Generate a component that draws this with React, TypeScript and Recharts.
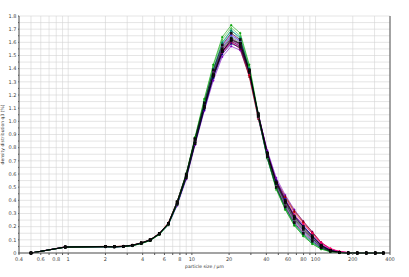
import React from 'react';
import { LineChart, Line, XAxis, YAxis, CartesianGrid } from 'recharts';

// particle size classes (µm)
const sizes = [0.5, 0.95, 2.0, 2.36, 2.79, 3.3, 3.9, 4.6, 5.45, 6.45, 7.6, 9.0, 10.6, 12.6, 14.9, 17.6, 20.8, 24.6, 29.1, 34.4, 40.7, 48.1, 56.9, 67.3, 79.6, 94.1, 111, 132, 156, 184, 218, 258, 305, 355];

const xTicks = [0.4, 0.5, 0.6, 0.7, 0.8, 0.9, 1, 2, 3, 4, 5, 6, 7, 8, 9, 10, 20, 30, 40, 50, 60, 70, 80, 90, 100, 200, 300, 400];
const xLabels = [0.4, 0.6, 0.8, 1, 2, 4, 6, 8, 10, 20, 40, 60, 80, 100, 200, 400];
const yTicks = [0, 0.05, 0.1, 0.15, 0.2, 0.25, 0.3, 0.35, 0.4, 0.45, 0.5, 0.55, 0.6, 0.65, 0.7, 0.75, 0.8, 0.85, 0.9, 0.95, 1, 1.05, 1.1, 1.15, 1.2, 1.25, 1.3, 1.35, 1.4, 1.45, 1.5, 1.55, 1.6, 1.65, 1.7, 1.75, 1.8];

// density distribution q3 (%) per measurement
const runA = [0, .044, .047, .046, .049, .055, .071, .094, .14, .215, .38, .6, .88, 1.17, 1.43, 1.64, 1.73, 1.67, 1.43, 1.06, .73, .49, .33, .21, .13, .07, .03, .01, .002, 0, 0, 0, 0, 0];
const runB = [0, .046, .049, .048, .051, .059, .077, .1, .148, .225, .39, .6, .87, 1.14, 1.39, 1.58, 1.67, 1.62, 1.39, 1.04, .73, .5, .35, .23, .15, .09, .04, .012, .003, 0, 0, 0, 0, 0];
const runC = [0, .045, .048, .047, .05, .057, .074, .097, .144, .218, .37, .58, .84, 1.1, 1.34, 1.53, 1.62, 1.58, 1.37, 1.05, .76, .55, .41, .29, .21, .13, .06, .02, .006, 0, 0, 0, 0, 0];
const runD = [0, .047, .05, .049, .052, .06, .078, .101, .15, .228, .39, .59, .85, 1.11, 1.35, 1.52, 1.6, 1.56, 1.35, 1.03, .75, .54, .42, .31, .23, .15, .07, .025, .008, .002, 0, 0, 0, 0];
const runE = [0, .046, .049, .048, .05, .058, .075, .098, .146, .222, .38, .59, .86, 1.13, 1.38, 1.57, 1.66, 1.61, 1.39, 1.03, .72, .5, .36, .24, .16, .1, .045, .014, .004, 0, 0, 0, 0, 0];
const runF = [0, .045, .048, .047, .049, .056, .073, .096, .142, .215, .37, .58, .85, 1.13, 1.39, 1.59, 1.69, 1.64, 1.41, 1.04, .72, .49, .34, .22, .14, .08, .035, .01, .003, 0, 0, 0, 0, 0];
const runG = [0, .044, .047, .046, .049, .056, .072, .095, .14, .212, .36, .56, .82, 1.08, 1.31, 1.49, 1.57, 1.54, 1.35, 1.05, .78, .57, .44, .33, .24, .16, .08, .03, .01, .002, 0, 0, 0, 0];
const runH = [0, .046, .048, .047, .05, .058, .076, .099, .147, .223, .38, .59, .86, 1.12, 1.36, 1.55, 1.63, 1.59, 1.38, 1.04, .75, .53, .39, .27, .19, .12, .055, .018, .005, 0, 0, 0, 0, 0];
const runI = [0, .045, .047, .046, .049, .057, .074, .097, .144, .219, .37, .57, .83, 1.09, 1.33, 1.51, 1.59, 1.56, 1.37, 1.06, .77, .55, .4, .28, .2, .13, .06, .02, .006, 0, 0, 0, 0, 0];
const runJ = [0, .046, .049, .048, .051, .059, .076, .1, .147, .224, .39, .6, .87, 1.15, 1.4, 1.6, 1.69, 1.63, 1.4, 1.04, .72, .49, .34, .22, .14, .08, .035, .011, .003, 0, 0, 0, 0, 0];
const runK = [0, .045, .048, .047, .05, .058, .075, .098, .145, .221, .38, .58, .84, 1.11, 1.35, 1.53, 1.61, 1.57, 1.37, 1.05, .76, .54, .4, .28, .2, .13, .06, .02, .005, 0, 0, 0, 0, 0];
const runL = [0, .047, .05, .049, .052, .06, .077, .1, .149, .226, .39, .6, .86, 1.12, 1.35, 1.53, 1.6, 1.55, 1.34, 1.02, .75, .55, .43, .32, .24, .16, .08, .03, .01, .003, 0, 0, 0, 0];
const runM = [0, .044, .047, .046, .049, .055, .071, .094, .14, .214, .37, .59, .87, 1.16, 1.42, 1.62, 1.71, 1.65, 1.42, 1.05, .72, .48, .33, .21, .13, .07, .03, .009, .002, 0, 0, 0, 0, 0];
const runN = [0, .046, .049, .048, .05, .058, .075, .098, .146, .222, .38, .58, .84, 1.1, 1.34, 1.52, 1.6, 1.57, 1.38, 1.06, .77, .55, .4, .28, .2, .13, .07, .03, .01, .004, .002, 0, 0, 0];
const runO = [0, .045, .048, .047, .05, .057, .074, .097, .144, .219, .37, .57, .83, 1.1, 1.34, 1.53, 1.62, 1.59, 1.39, 1.06, .76, .53, .38, .26, .18, .11, .05, .016, .004, 0, 0, 0, 0, 0];
const runP = [0, .045, .048, .047, .05, .057, .074, .097, .144, .218, .37, .58, .85, 1.12, 1.37, 1.56, 1.65, 1.61, 1.39, 1.04, .74, .52, .37, .25, .17, .1, .045, .013, .003, 0, 0, 0, 0, 0];
const runQ = [0, .046, .049, .048, .051, .059, .077, .1, .148, .225, .39, .6, .86, 1.13, 1.37, 1.56, 1.64, 1.6, 1.38, 1.03, .73, .51, .37, .25, .17, .11, .05, .015, .004, 0, 0, 0, 0, 0];
const runR = [0, .045, .048, .047, .05, .058, .075, .098, .145, .22, .38, .58, .85, 1.12, 1.36, 1.54, 1.62, 1.58, 1.37, 1.05, .76, .54, .4, .29, .22, .15, .08, .035, .012, .004, .001, 0, 0, 0];

const series = [
  { key: 'g', values: runG, color: '#8000c0', shape: 'circle' },
  { key: 'd', values: runD, color: '#e00000', shape: 'circle' },
  { key: 'l', values: runL, color: '#800000', shape: 'triangle' },
  { key: 'n', values: runN, color: '#ff00ff', shape: 'diamond' },
  { key: 'c', values: runC, color: '#0000ff', shape: 'circle' },
  { key: 'i', values: runI, color: '#000080', shape: 'triangle' },
  { key: 'r', values: runR, color: '#ff0060', shape: 'circle' },
  { key: 'e', values: runE, color: '#c000c0', shape: 'triangle' },
  { key: 'p', values: runP, color: '#2060ff', shape: 'diamond' },
  { key: 'q', values: runQ, color: '#606060', shape: 'circle' },
  { key: 'f', values: runF, color: '#00b0c0', shape: 'diamond' },
  { key: 'j', values: runJ, color: '#008060', shape: 'circle' },
  { key: 'm', values: runM, color: '#40c040', shape: 'triangle' },
  { key: 'a', values: runA, color: '#00a000', shape: 'circle' },
  { key: 'b', values: runB, color: '#000000', shape: 'square' },
  { key: 'h', values: runH, color: '#000000', shape: 'square' },
  { key: 'k', values: runK, color: '#000000', shape: 'square' },
  { key: 'o', values: runO, color: '#000000', shape: 'square' },
];

const data = sizes.map((size, i) => {
  const row: Record<string, number> = { size };
  series.forEach((s) => { row[s.key] = s.values[i]; });
  return row;
});

const makeDot = (shape: string, color: string, name: string) => (props: any) => {
  const { cx, cy, index } = props;
  const k = `${name}-${index}`;
  if (cx == null || cy == null) return <g key={k} />;
  if (shape === 'square') {
    const r = 1.1;
    return <rect key={k} x={cx - r} y={cy - r} width={r * 2} height={r * 2} fill="#111" stroke="#000" strokeWidth={0.4} />;
  }
  const r = 0.9;
  if (shape === 'triangle') {
    return <path key={k} d={`M${cx},${cy - r - 0.2}L${cx + r},${cy + r}L${cx - r},${cy + r}Z`} fill={color} stroke={color} strokeWidth={0.4} />;
  }
  if (shape === 'diamond') {
    return <path key={k} d={`M${cx},${cy - r}L${cx + r},${cy}L${cx},${cy + r}L${cx - r},${cy}Z`} fill={color} stroke={color} strokeWidth={0.4} />;
  }
  return <circle key={k} cx={cx} cy={cy} r={r} fill={color} stroke={color} strokeWidth={0.4} />;
};

const tickStyle = { fontSize: 5, fill: '#444', fontFamily: 'DejaVu Sans' };

export default function App() {
  return (
    <div style={{ position: 'absolute', left: 0, top: 0, width: 409, height: 277, background: '#fff' }}>
      <LineChart width={409} height={277} data={data} margin={{ top: 16, right: 18, bottom: 0, left: 0 }}>
        <CartesianGrid stroke="#d4d4d4" strokeWidth={0.6} />
        <XAxis
          dataKey="size"
          type="number"
          scale="log"
          domain={[0.4, 400]}
          ticks={xTicks}
          interval={0}
          allowDataOverflow
          height={24}
          stroke="#555"
          tickSize={2}
          tickMargin={2}
          tick={tickStyle}
          tickFormatter={(v: number) => (xLabels.includes(v) ? String(v) : '')}
          label={{ value: 'particle size / µm', position: 'insideBottom', offset: 9, style: { fontSize: 4.5, fill: '#333', fontFamily: 'DejaVu Sans' } }}
        />
        <XAxis xAxisId="top" orientation="top" dataKey="size" type="number" scale="log" domain={[0.4, 400]} height={0} tick={false} tickLine={false} stroke="#555" />
        <YAxis
          domain={[0, 1.8]}
          ticks={yTicks}
          interval={0}
          width={19}
          stroke="#555"
          tickSize={1}
          tickMargin={1.5}
          tick={tickStyle}
          tickFormatter={(v: number) => {
            const t = Math.round(v * 100);
            if (t % 10 !== 0) return '';
            return t === 0 ? '0' : v.toFixed(1);
          }}
          label={{ value: 'density distribution q3 (%)', angle: -90, position: 'insideLeft', offset: 2, style: { fontSize: 4.5, fill: '#333', fontFamily: 'DejaVu Sans', textAnchor: 'middle' } }}
        />
        <YAxis yAxisId="right" orientation="right" domain={[0, 1.8]} width={1} tick={false} tickLine={false} stroke="#555" />
        {series.map((s) => (
          <Line
            key={s.key}
            dataKey={s.key}
            type="linear"
            stroke={s.color}
            strokeWidth={0.6}
            dot={makeDot(s.shape, s.color, s.key)}
            activeDot={false}
            isAnimationActive={false}
          />
        ))}
      </LineChart>
    </div>
  );
}
